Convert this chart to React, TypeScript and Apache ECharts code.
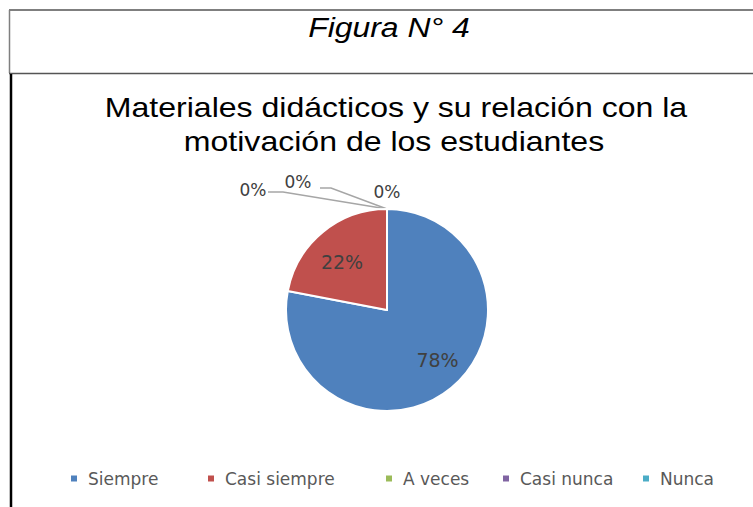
import React, { useEffect, useRef } from "react";
import * as echarts from "echarts";

const categories = ["Siempre", "Casi siempre", "A veces", "Casi nunca", "Nunca"];
const values = [78, 22, 0, 0, 0];
const colors = ["#4F81BD", "#C0504D", "#9BBB59", "#8064A2", "#4BACC6"];
const figureTitle = "Figura N° 4";
const titleLines = ["Materiales didácticos y su relación con la", "motivación de los estudiantes"];

// layout constants
const CX = 387;
const CY = 310;
const R = 101;
const legendLefts = [69, 206, 384, 501, 641];
// label offsets from pie centre (inside labels) or from the pie top (zero labels)
const insideLabelOffsets: Record<number, number[]> = { 0: [50.5, 50], 1: [-45, -48] };
const zeroLabelOffsets: Record<number, { dx: number; dy: number; line: number[][] | null }> = {
  2: { dx: -134, dy: -19, line: [[-104, -17], [-119, -17]] },
  3: { dx: -89, dy: -27, line: [[-56, -21], [-67, -21]] },
  4: { dx: 0, dy: -17, line: null },
};

export default function App() {
  const ref = useRef<HTMLDivElement>(null);
  useEffect(() => {
    if (!ref.current) return;
    const chart = echarts.init(ref.current, undefined, { renderer: "svg" });
    const ax = CX;
    const ay = CY - R;
    const option: any = {
      animation: false,
      backgroundColor: "#ffffff",
      graphic: [
        { type: "line", shape: { x1: 9, y1: 10, x2: 753, y2: 10 }, style: { stroke: "#7f7f7f", lineWidth: 2 } },
        { type: "line", shape: { x1: 9.5, y1: 10, x2: 9.5, y2: 73 }, style: { stroke: "#7f7f7f", lineWidth: 1.5 } },
        { type: "line", shape: { x1: 9, y1: 73.5, x2: 753, y2: 73.5 }, style: { stroke: "#555555", lineWidth: 1.5 } },
        { type: "line", shape: { x1: 11, y1: 74, x2: 11, y2: 507 }, style: { stroke: "#000000", lineWidth: 2.5 } },
        {
          type: "text", x: 389, y: 27, scaleX: 1.14,
          style: { text: figureTitle, font: "italic 28px 'Liberation Sans', Arial, sans-serif", fill: "#000", textAlign: "center", textVerticalAlign: "middle" },
        },
        {
          type: "text", x: 396, y: 107, scaleX: 1.145,
          style: { text: titleLines[0], font: "28px 'Liberation Sans', Arial, sans-serif", fill: "#000", textAlign: "center", textVerticalAlign: "middle" },
        },
        {
          type: "text", x: 394, y: 141, scaleX: 1.145,
          style: { text: titleLines[1], font: "28px 'Liberation Sans', Arial, sans-serif", fill: "#000", textAlign: "center", textVerticalAlign: "middle" },
        },
      ],
      legend: categories.map((c, i) => ({
        data: [c],
        left: legendLefts[i],
        top: 470,
        padding: 0,
        icon: "rect",
        itemWidth: 8,
        itemHeight: 8,
        selectedMode: false,
        textStyle: { fontFamily: "'DejaVu Sans', sans-serif", fontSize: 17, color: "#595959", padding: [0, 0, 0, 5] },
      })),
      series: [
        {
          type: "pie",
          center: [CX, CY],
          radius: R,
          startAngle: 90,
          clockwise: true,
          avoidLabelOverlap: false,
          stillShowZeroSum: true,
          itemStyle: { borderColor: "#ffffff", borderWidth: 2 },
          label: {
            show: true,
            formatter: (p: any) => Math.round(p.percent) + "%",
            fontFamily: "'DejaVu Sans', sans-serif",
            fontSize: 19,
            color: "#404040",
          },
          labelLine: { show: true, lineStyle: { color: "#a6a6a6", width: 1.5 } },
          labelLayout: (params: any) => {
            const i = params.dataIndex;
            if (i < 2) {
              const o = insideLabelOffsets[i];
              return { x: CX + o[0], y: CY + o[1], align: "center", verticalAlign: "middle" };
            }
            const o = zeroLabelOffsets[i];
            const res: any = { x: ax + o.dx, y: ay + o.dy, align: "center", verticalAlign: "middle" };
            if (o.line) {
              res.labelLinePoints = [[ax, ay], [ax + o.line[0][0], ay + o.line[0][1]], [ax + o.line[1][0], ay + o.line[1][1]]];
            }
            return res;
          },
          data: categories.map((c, i) => ({
            name: c,
            value: values[i],
            itemStyle: { color: colors[i] },
            label: { position: i < 2 ? "inside" : "outside", fontSize: i < 2 ? 19 : 17 },
            labelLine: { show: i >= 2 && zeroLabelOffsets[i] && zeroLabelOffsets[i].line !== null },
          })),
        },
      ],
    };
    chart.setOption(option);
    return () => chart.dispose();
  }, []);
  return (
    <div
      ref={ref}
      style={{ position: "absolute", left: 0, top: 0, width: 753, height: 507, background: "#fff" }}
    />
  );
}
